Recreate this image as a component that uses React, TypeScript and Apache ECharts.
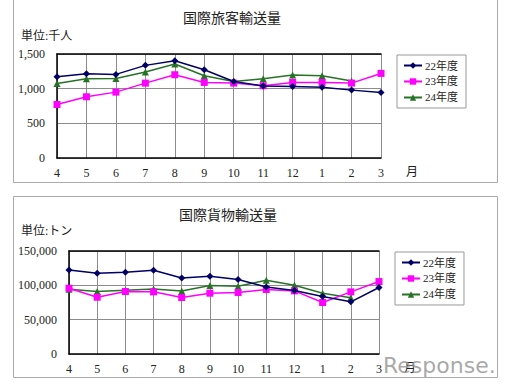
import React, { useEffect, useRef } from "react";
import * as echarts from "echarts";

const months = ["4", "5", "6", "7", "8", "9", "10", "11", "12", "1", "2", "3"];
const seriesNames = ["22年度", "23年度", "24年度"];

// 国際旅客輸送量 (千人)
const pax22 = [1172, 1215, 1206, 1336, 1403, 1273, 1104, 1037, 1032, 1022, 979, 945];
const pax23 = [772, 883, 950, 1080, 1201, 1090, 1080, 1042, 1090, 1090, 1080, 1220];
const pax24 = [1075, 1143, 1148, 1240, 1355, 1186, 1104, 1143, 1196, 1186, 1109, null];

// 国際貨物輸送量 (トン)
const cargo22 = [122400, 117600, 119000, 121900, 110800, 113200, 108400, 97500, 92500, 83700, 76000, 96800];
const cargo23 = [95800, 82700, 91000, 90500, 82300, 88600, 89500, 93900, 91900, 75000, 90500, 105500];
const cargo24 = [94400, 91000, 92900, 94800, 91900, 99700, 98700, 107400, 100200, 88600, 81800, null];

const paxTicks = { min: 0, max: 1500, interval: 500 };
const cargoTicks = { min: 0, max: 150000, interval: 50000 };

const colors = ["#000066", "#ff00ff", "#267326"];
const symbols = ["diamond", "rect", "triangle"];
const symbolSizes = [7, 7, 7];

const FONT = "'Liberation Serif', 'Noto Sans CJK JP', serif";

export default function App() {
  const ref = useRef<HTMLDivElement>(null);
  useEffect(() => {
    document.body.style.margin = "0";
    const chart = echarts.init(ref.current!, null, { renderer: "svg" });

    const xBottom = (gridIndex: number) => ({
      type: "category" as const,
      gridIndex,
      data: months,
      boundaryGap: false,
      axisLine: { show: true, lineStyle: { color: "#000", width: 1.5 } },
      axisTick: { show: false },
      axisLabel: { color: "#222", fontFamily: FONT, fontSize: 12, margin: 9 },
      splitLine: { show: true, lineStyle: { color: "#8c8c8c", width: 1 } },
      name: "月",
      nameLocation: "end" as const,
      nameGap: 25,
      nameTextStyle: {
        color: "#222",
        fontFamily: FONT,
        fontSize: 12,
        verticalAlign: "top" as const,
        padding: [8, 0, 0, 0],
      },
    });
    const xTop = (gridIndex: number) => ({
      type: "category" as const,
      gridIndex,
      position: "top" as const,
      data: months,
      boundaryGap: false,
      axisLine: { show: true, lineStyle: { color: "#000", width: 1.5 } },
      axisTick: { show: false },
      axisLabel: { show: false },
      splitLine: { show: false },
    });
    const yAxis = (gridIndex: number, t: { min: number; max: number; interval: number }) => ({
      type: "value" as const,
      gridIndex,
      min: t.min,
      max: t.max,
      interval: t.interval,
      axisLine: { show: true, lineStyle: { color: "#000", width: 1.5 } },
      axisTick: { show: false },
      axisLabel: {
        color: "#222",
        fontFamily: FONT,
        fontSize: 12,
        margin: 12,
        formatter: (v: number) => v.toLocaleString("en-US"),
      },
      splitLine: { show: true, lineStyle: { color: "#8c8c8c", width: 1 } },
    });

    const mkSeries = (data: (number | null)[][], xi: number, yi: number) =>
      data.map((d, i) => ({
        name: seriesNames[i],
        type: "line" as const,
        xAxisIndex: xi,
        yAxisIndex: yi,
        data: d,
        color: colors[i],
        symbol: symbols[i],
        symbolSize: symbolSizes[i],
        lineStyle: { width: 1.5, color: colors[i] },
        itemStyle: { color: colors[i] },
        z: 3 - i,
      }));

    const legend = (top: number, left: number) => ({
      orient: "vertical" as const,
      left,
      top,
      data: seriesNames.map((n) => ({ name: n })),
      itemWidth: 18,
      itemHeight: 8,
      itemGap: 5,
      padding: [5, 8, 5, 6],
      backgroundColor: "#fff",
      borderColor: "#999",
      borderWidth: 1,
      borderRadius: 0,
      textStyle: { fontFamily: FONT, fontSize: 11, color: "#222", padding: [0, 0, 0, -2] },
    });

    chart.setOption({
      animation: false,
      backgroundColor: "#fff",
      title: [
        {
          text: "国際旅客輸送量",
          left: 227,
          top: 6,
          textAlign: "center",
          textStyle: { fontFamily: FONT, fontSize: 14, fontWeight: "normal", color: "#222" },
        },
        {
          text: "単位:千人",
          left: 16,
          top: 25,
          textStyle: { fontFamily: FONT, fontSize: 12, fontWeight: "normal", color: "#222" },
        },
        {
          text: "国際貨物輸送量",
          left: 223,
          top: 203,
          textAlign: "center",
          textStyle: { fontFamily: FONT, fontSize: 14, fontWeight: "normal", color: "#222" },
        },
        {
          text: "単位:トン",
          left: 16,
          top: 220,
          textStyle: { fontFamily: FONT, fontSize: 12, fontWeight: "normal", color: "#222" },
        },
      ],
      grid: [
        { left: 57, top: 54, width: 324, height: 104, containLabel: false },
        { left: 69, top: 251, width: 310, height: 103, containLabel: false },
      ],
      xAxis: [xBottom(0), xTop(0), xBottom(1), xTop(1)],
      yAxis: [yAxis(0, paxTicks), yAxis(1, cargoTicks)],
      legend: [legend(55, 397), legend(252, 395)],
      series: [
        ...mkSeries([pax22, pax23, pax24], 0, 0),
        ...mkSeries([cargo22, cargo23, cargo24], 2, 1),
      ],
      graphic: [
        {
          type: "rect",
          shape: { x: 13.5, y: -5, width: 484, height: 187.5 },
          style: { fill: "none", stroke: "#aaa", lineWidth: 1 },
          silent: true,
        },
        {
          type: "rect",
          shape: { x: 13.5, y: 196.5, width: 484, height: 181 },
          style: { fill: "none", stroke: "#aaa", lineWidth: 1 },
          silent: true,
        },
        {
          type: "text",
          x: 383,
          y: 354,
          style: {
            text: "Response.",
            fill: "#999",
            font: "22px 'DejaVu Sans', sans-serif",
            opacity: 0.85,
          },
          silent: true,
          z: 100,
        },
      ],
    });
    return () => chart.dispose();
  }, []);
  return (
    <div
      ref={ref}
      style={{ position: "absolute", left: 0, top: 0, width: 506, height: 384 }}
    />
  );
}
